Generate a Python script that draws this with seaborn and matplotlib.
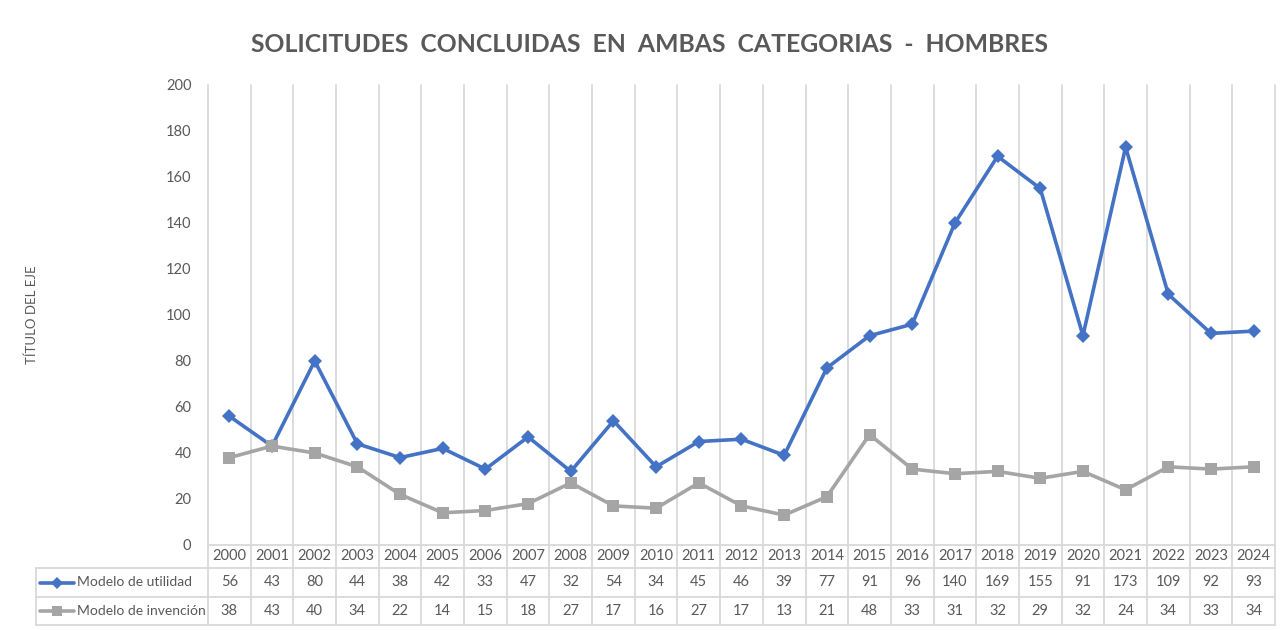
import matplotlib
matplotlib.use("Agg")
import matplotlib.pyplot as plt
import seaborn as sns
import pandas as pd
from matplotlib.lines import Line2D
from matplotlib.transforms import blended_transform_factory

years = list(range(2000, 2025))
utilidad = [56, 43, 80, 44, 38, 42, 33, 47, 32, 54, 34, 45, 46, 39, 77, 91, 96, 140, 169, 155, 91, 173, 109, 92, 93]
invencion = [38, 43, 40, 34, 22, 14, 15, 18, 27, 17, 16, 27, 17, 13, 21, 48, 33, 31, 32, 29, 32, 24, 34, 33, 34]
series_names = ["Modelo de utilidad", "Modelo de invención"]

df = pd.DataFrame({
    "pos": list(range(len(years))) * 2,
    "valor": utilidad + invencion,
    "serie": [series_names[0]] * len(years) + [series_names[1]] * len(years),
})

sns.set_style("white")
plt.rcParams["font.family"] = ["Lato", "DejaVu Sans"]

blue = "#4472C4"
gray = "#A5A5A5"
txt = "#595959"
grid = "#D9D9D9"

fig = plt.figure(figsize=(12.82, 6.30), dpi=100)
W, H = 1282, 630
left, right, top, bottom = 208, 1275, 85, 545
ax = fig.add_axes([left / W, 1 - bottom / H, (right - left) / W, (bottom - top) / H])

sns.lineplot(data=df[df.serie == series_names[0]], x="pos", y="valor", ax=ax,
             color=blue, linewidth=2.6, marker="D", markersize=7, markeredgewidth=0)
sns.lineplot(data=df[df.serie == series_names[1]], x="pos", y="valor", ax=ax,
             color=gray, linewidth=2.6, marker="s", markersize=8.5, markeredgewidth=0)

n = len(years)
ax.set_xlim(-0.5, n - 0.5)
ax.set_ylim(0, 200)
ax.set_yticks(range(0, 201, 20))
ax.set_xticks([])
ax.set_xlabel("")
ax.set_ylabel("TÍTULO DEL EJE", color=txt, fontsize=9.5)
ax.tick_params(axis="y", length=0, pad=12, labelsize=10.5, labelcolor=txt)
for s in ax.spines.values():
    s.set_visible(False)

# table geometry (axes y units)
ph = bottom - top
def ay(py):
    return (bottom - py) / ph

y_hdr = ay(568)
y_r1 = ay(597)
y_r2 = ay(625)
ax_x = lambda px: (px - left) / (right - left)

ax.yaxis.set_label_coords(ax_x(38), 0.5)

trans = blended_transform_factory(ax.transData, ax.transAxes)

# vertical grid lines through plot and table
for k in range(n + 1):
    ax.add_line(Line2D([k - 0.5, k - 0.5], [1, y_r2], transform=trans,
                       color=grid, linewidth=1.3, clip_on=False, zorder=0))
# horizontal table lines
ax.add_line(Line2D([0, 1], [0, 0], transform=ax.transAxes, color=grid,
                   linewidth=1.3, clip_on=False, zorder=0))
for yy in (y_hdr, y_r1, y_r2):
    ax.add_line(Line2D([ax_x(36), 1], [yy, yy], transform=ax.transAxes, color=grid,
                       linewidth=1.3, clip_on=False, zorder=0))
ax.add_line(Line2D([ax_x(36), ax_x(36)], [y_hdr, y_r2], transform=ax.transAxes,
                   color=grid, linewidth=1.3, clip_on=False, zorder=0))

# table text
for i, yr in enumerate(years):
    ax.text(i, (0 + y_hdr) / 2, str(yr), transform=trans, ha="center", va="center",
            fontsize=10.5, color=txt)
    ax.text(i, (y_hdr + y_r1) / 2, str(utilidad[i]), transform=trans, ha="center",
            va="center", fontsize=10.5, color=txt)
    ax.text(i, (y_r1 + y_r2) / 2, str(invencion[i]), transform=trans, ha="center",
            va="center", fontsize=10.5, color=txt)

for name, yc, col, mk, ms in [(series_names[0], (y_hdr + y_r1) / 2, blue, "D", 6),
                              (series_names[1], (y_r1 + y_r2) / 2, gray, "s", 7)]:
    ax.add_line(Line2D([ax_x(40), ax_x(74)], [yc, yc], transform=ax.transAxes,
                       color=col, linewidth=2.6, clip_on=False))
    ax.add_line(Line2D([ax_x(57)], [yc], transform=ax.transAxes, color=col,
                       marker=mk, markersize=ms, markeredgewidth=0, clip_on=False))
    ax.text(ax_x(77), yc, name, transform=ax.transAxes, ha="left", va="center",
            fontsize=10, color=txt)

fig.text(650 / W, 1 - 45 / H, "SOLICITUDES  CONCLUIDAS  EN  AMBAS  CATEGORIAS  -  HOMBRES",
         ha="center", va="center", fontsize=17.8, fontweight="bold", color=txt)

fig.savefig("out.png", dpi=100)
